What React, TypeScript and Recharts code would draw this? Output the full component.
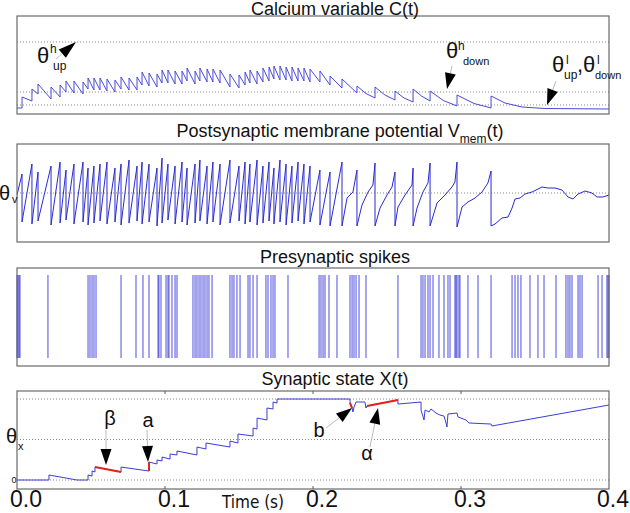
import { LineChart, Line, XAxis, YAxis, ReferenceLine } from 'recharts'

// times in ms, x axis shown in seconds
const POST_SPIKES_MS = [
  3.4, 10.1, 14.2, 23.0, 29.1, 33.1, 38.5, 44.6, 48.0, 52.0,
  56.1, 60.8, 66.2, 70.3, 75.7, 81.1, 84.5, 89.2, 94.6, 98.0,
  102.0, 106.8, 111.5, 114.9, 120.3, 123.6, 128.4, 132.4, 137.2, 143.9,
  150.0, 154.1, 157.4, 162.2, 166.2, 170.3, 173.6, 177.7, 181.8, 185.8,
  189.9, 193.9, 198.0, 204.7, 211.5, 219.6, 229.7, 241.9, 255.4, 267.6,
  279.1, 297.3, 320.3,
]

// calcium just before / just after each postsynaptic spike
const CA_LOW = [
  0.6, 1.3, 2.0, 1.5, 1.7, 2.2, 2.1, 2.0, 2.5, 2.4,
  2.4, 2.3, 2.2, 2.5, 2.4, 2.4, 2.9, 2.8, 2.7, 3.1,
  3.1, 3.0, 3.0, 3.3, 3.0, 3.3, 3.2, 3.2, 3.1, 2.7,
  2.6, 2.9, 3.1, 3.0, 3.2, 3.3, 3.5, 3.4, 3.4, 3.3,
  3.3, 3.3, 3.2, 3.2, 2.9, 2.6, 2.1, 1.6, 1.4, 1.2,
  1.3, 0.8, 0.6,
]
const CA_HIGH = [
  1.7, 2.5, 3.0, 2.7, 2.9, 3.3, 3.3, 3.2, 3.6, 3.6,
  3.6, 3.5, 3.4, 3.7, 3.6, 3.7, 4.2, 4.1, 4.0, 4.4,
  4.4, 4.3, 4.3, 4.6, 4.3, 4.6, 4.5, 4.5, 4.4, 4.0,
  3.9, 4.2, 4.4, 4.3, 4.6, 4.7, 4.8, 4.8, 4.7, 4.7,
  4.6, 4.6, 4.5, 4.3, 3.8, 3.5, 2.8, 2.7, 2.3, 2.5,
  2.3, 1.9, 1.8,
]
// extra calcium samples on the slow decays at the end
const CA_EXTRA_MS = [235.8, 248.6, 261.5, 273.3, 288.0, 308.8, 329.7, 341.2, 356.8, 400]
const CA_EXTRA = [2.05, 1.9, 1.6, 1.8, 1.35, 1.05, 1.1, 0.7, 0.55, 0.5]
const CA_START = 0.6
const CA_THRESHOLDS = [0.9, 2.2, 7.2]

// membrane potential (arbitrary units, threshold at 49)
const VM_START = 47
const VM_PEAK = [
  68, 78, 70, 76, 80, 72, 78, 80, 74, 76,
  78, 80, 74, 78, 82, 76, 80, 78, 74, 84,
  78, 76, 80, 74, 78, 82, 76, 80, 78, 82,
  76, 80, 78, 82, 76, 80, 74, 82, 78, 76,
  80, 78, 76, 72, 70, 80, 72, 79, 70, 74,
  79, 80, 71,
]
const VM_RESET = [
  20, 18, 21, 17, 19, 22, 18, 20, 17, 19,
  21, 18, 20, 17, 19, 21, 18, 20, 16, 19,
  22, 18, 20, 17, 19, 21, 18, 20, 17, 19,
  21, 18, 20, 17, 19, 21, 18, 20, 17, 19,
  21, 18, 20, 17, 16, 16, 16, 16, 16, 16,
  16, 15, 16,
]
const VM_EXTRA_MS = [
  223.0, 227.0, 233.1, 237.2, 240.5, 245.3, 250.0, 253.4, 257.4, 262.2,
  266.9, 270.3, 274.3, 277.7, 283.8, 289.2, 293.9, 295.9, 300.7, 304.7,
  309.5, 314.2, 318.2, 323.0, 327.7, 331.8, 334.5, 336.5, 339.9, 343.2,
  348.0, 354.7, 358.8, 363.5, 368.2, 372.3, 375.7, 379.1, 383.8, 388.5,
  391.9, 395.9, 400,
]
const VM_EXTRA = [
  44, 50, 37, 50, 57, 34, 47, 55, 35, 47,
  57, 34, 50, 59, 39, 47, 55, 60, 35, 40,
  44, 50, 59, 18, 24, 25, 34, 43, 44, 48,
  50, 55, 54, 54, 52, 45, 43, 48, 51, 49,
  45, 45, 47,
]
const VM_THRESHOLD = 49

const PRE_SPIKES_MS = [
  0, 0.7, 1.4, 2.0, 20.9, 48.0, 49.3, 50.7, 52.0, 53.4,
  70.3, 80.4, 85.1, 89.2, 95.3, 95.9, 97.3, 100.7, 102.0, 102.7,
  104.7, 106.8, 108.1, 118.9, 120.3, 121.6, 123.0, 124.3, 125.7, 127.0,
  128.4, 129.7, 131.8, 143.9, 145.3, 146.6, 148.6, 150.7, 156.1, 157.4,
  159.5, 162.2, 168.2, 169.6, 171.6, 173.0, 174.3, 183.1, 204.1, 205.4,
  206.8, 208.1, 210.8, 216.2, 225.0, 226.4, 227.7, 229.1, 231.1, 235.8,
  257.4, 273.0, 274.3, 275.7, 277.7, 279.1, 281.1, 285.1, 288.5, 291.2,
  292.6, 295.9, 296.6, 297.3, 298.6, 299.3, 304.7, 311.5, 320.3, 334.5,
  336.5, 338.5, 340.5, 346.6, 352.0, 356.1, 364.2, 370.9, 372.3, 373.6,
  375.0, 379.1, 380.4, 381.8, 392.6, 395.3, 398.6, 399.3, 400,
]

const X_MS = [
  0, 21.6, 21.6, 40.5, 48.0, 48.0, 50.7, 50.7, 52.7, 52.7,
  70.3, 70.3, 89.2, 89.2, 94.6, 94.6, 98.0, 98.0, 103.4, 103.4,
  108.1, 108.1, 121.6, 121.6, 127.7, 127.7, 143.9, 143.9, 149.3, 149.3,
  159.5, 159.5, 162.2, 162.2, 168.9, 168.9, 173.0, 173.0, 175.7, 175.7,
  225.0, 225.0, 226.4, 227.0, 227.7, 229.1, 235.1, 235.8, 236.5, 257.4,
  257.4, 273.0, 273.0, 275.0, 275.7, 278.4, 279.7, 283.1, 285.8, 288.5,
  289.9, 290.5, 291.2, 297.3, 298.0, 303.4, 305.4, 320.3, 320.9, 400,
]
const X_VAL = [
  0, 0, 0.062, 0, 0, 0.062, 0.049, 0.111, 0.099, 0.16,
  0.099, 0.16, 0.111, 0.222, 0.198, 0.247, 0.235, 0.284, 0.259, 0.321,
  0.309, 0.358, 0.309, 0.407, 0.383, 0.457, 0.407, 0.481, 0.457, 0.568,
  0.543, 0.642, 0.63, 0.765, 0.741, 0.889, 0.877, 0.963, 0.951, 1.0,
  1.0, 0.951, 0.889, 0.84, 0.901, 0.963, 0.963, 0.889, 0.914, 0.988,
  0.938, 0.963, 0.864, 0.741, 0.864, 0.84, 0.877, 0.827, 0.802, 0.79,
  0.704, 0.654, 0.815, 0.827, 0.778, 0.741, 0.704, 0.691, 0.667, 0.926,
]
const X_THRESHOLDS = [0, 0.5, 1]

// highlighted pieces of X(t)
const SEG_BETA = [[52.7, 0.16], [70.3, 0.099]]
const SEG_A = [[89.2, 0.111], [89.2, 0.222]]
const SEG_B = [[225.0, 0.951], [226.4, 0.889]]
const SEG_ALPHA = [[236.5, 0.914], [257.4, 0.988]]

const TIME_TICKS = [0, 100, 200, 300, 400]

const FONT = '"Liberation Sans", Arial, sans-serif'
const RED = '#e4221c'
const GRID = '#8a8a8a'
const W = 630
const PH = 98
const MARGIN = { top: 0, right: 21, bottom: 0, left: 17 }
const PANEL_TOPS = [16, 144, 268, 391]

const byTime = (a: { t: number }, b: { t: number }) => a.t - b.t

const caData = [
  { t: 0, v: CA_START },
  ...POST_SPIKES_MS.flatMap((t, i) => [{ t, v: CA_LOW[i] }, { t, v: CA_HIGH[i] }]),
  ...CA_EXTRA_MS.map((t, i) => ({ t, v: CA_EXTRA[i] })),
].sort(byTime)

const vmData = [
  { t: 0, v: VM_START },
  ...POST_SPIKES_MS.flatMap((t, i) => [{ t, v: VM_PEAK[i] }, { t, v: VM_RESET[i] }]),
  ...VM_EXTRA_MS.map((t, i) => ({ t, v: VM_EXTRA[i] })),
].sort(byTime)

const xData = X_MS.map((t, i) => ({ t, v: X_VAL[i] }))
const toPts = (s: number[][]) => s.map(([t, v]) => ({ t, v }))

function TimeTick(p: any) {
  const last = p.payload.value === 400
  return (
    <text
      x={last ? W - 1 : p.x + 9}
      y={PH + 18}
      textAnchor={last ? 'end' : 'middle'}
      fontSize={23}
      fontFamily={FONT}
      fill="#111"
    >
      {(p.payload.value / 1000).toFixed(1)}
    </text>
  )
}

function Axes({ domain, showX = false }: { domain: [number, number]; showX?: boolean }) {
  return (
    <>
      <XAxis
        type="number"
        dataKey="t"
        domain={[0, 400]}
        allowDataOverflow
        hide={!showX}
        ticks={TIME_TICKS}
        interval={0}
        axisLine={false}
        tickLine={false}
        height={24}
        tick={TimeTick}
      />
      <YAxis type="number" domain={domain} allowDataOverflow hide />
    </>
  )
}

function Arrow({ sx, sy, tx, ty, len = 16, w = 11 }: { sx: number; sy: number; tx: number; ty: number; len?: number; w?: number }) {
  const d = Math.hypot(tx - sx, ty - sy)
  const ux = (tx - sx) / d
  const uy = (ty - sy) / d
  const bx = tx - ux * len
  const by = ty - uy * len
  const px = (-uy * w) / 2
  const py = (ux * w) / 2
  return (
    <g>
      <line x1={sx} y1={sy} x2={bx} y2={by} stroke="#aaa" strokeWidth={0.8} />
      <polygon points={`${tx},${ty} ${bx + px},${by + py} ${bx - px},${by - py}`} fill="#000" />
    </g>
  )
}

const pos = (top: number): React.CSSProperties => ({ position: 'absolute', left: 0, top })

export default function App() {
  const t = { fontFamily: FONT, fill: '#111' }
  return (
    <div style={{ position: 'absolute', left: 0, top: 0, width: W, height: 513, background: '#fff', overflow: 'hidden' }}>
      {/* calcium */}
      <div style={pos(PANEL_TOPS[0])}>
        <LineChart width={W} height={PH} margin={MARGIN}>
          <Axes domain={[0, 9.8]} />
          {CA_THRESHOLDS.map(y => (
            <ReferenceLine key={y} y={y} stroke={GRID} strokeDasharray="1 2" />
          ))}
          <Line data={caData} dataKey="v" type="linear" stroke="#4a4ad8" strokeWidth={1} dot={false} activeDot={false} isAnimationActive={false} />
        </LineChart>
      </div>

      {/* membrane potential */}
      <div style={pos(PANEL_TOPS[1])}>
        <LineChart width={W} height={PH} margin={MARGIN}>
          <Axes domain={[0, 98]} />
          <ReferenceLine y={VM_THRESHOLD} stroke={GRID} strokeDasharray="1 2" />
          <Line data={vmData} dataKey="v" type="linear" stroke="#2a2ad0" strokeWidth={1} dot={false} activeDot={false} isAnimationActive={false} />
        </LineChart>
      </div>

      {/* presynaptic raster */}
      <div style={pos(PANEL_TOPS[2])}>
        <LineChart width={W} height={PH} margin={MARGIN}>
          <Axes domain={[-0.0964, 1.0843]} />
          {PRE_SPIKES_MS.map((s, i) => (
            <ReferenceLine
              key={i}
              segment={[{ x: s, y: 0 }, { x: s, y: 1 }]}
              stroke="#2424d4"
              strokeOpacity={0.62}
              strokeWidth={1.3}
            />
          ))}
        </LineChart>
      </div>

      {/* synaptic state */}
      <div style={pos(PANEL_TOPS[3])}>
        <LineChart width={W} height={PH + 24} margin={MARGIN}>
          <Axes domain={[-0.111, 1.099]} showX />
          {X_THRESHOLDS.map(y => (
            <ReferenceLine key={y} y={y} stroke={GRID} strokeDasharray="1 2" />
          ))}
          {[100, 200, 300].map(x => (
            <ReferenceLine key={'b' + x} segment={[{ x, y: -0.111 }, { x, y: -0.075 }]} stroke="#555" />
          ))}
          {[100, 200, 300].map(x => (
            <ReferenceLine key={'t' + x} segment={[{ x, y: 1.063 }, { x, y: 1.099 }]} stroke="#555" />
          ))}
          <Line data={xData} dataKey="v" type="linear" stroke="#3c3cd8" strokeWidth={1} dot={false} activeDot={false} isAnimationActive={false} />
          {[SEG_BETA, SEG_A, SEG_B, SEG_ALPHA].map((s, i) => (
            <Line key={i} data={toPts(s)} dataKey="v" type="linear" stroke={RED} strokeWidth={2} dot={false} activeDot={false} isAnimationActive={false} />
          ))}
        </LineChart>
      </div>

      <svg width={W} height={513} style={{ position: 'absolute', left: 0, top: 0, pointerEvents: 'none' }}>
        {PANEL_TOPS.map(y => (
          <rect key={y} x={17} y={y} width={592} height={PH} fill="none" stroke="#6a6a6a" strokeWidth={1.2} />
        ))}

        <g {...t} fontSize={18} textAnchor="middle">
          <text x={335} y={15}>Calcium variable C(t)</text>
          <text x={340} y={137}>
            Postsynaptic membrane potential V<tspan fontSize={12} dy={6}>mem</tspan>
            <tspan dy={-6}>(t)</tspan>
          </text>
          <text x={335} y={263}>Presynaptic spikes</text>
          <text x={335} y={385}>Synaptic state X(t)</text>
        </g>

        {/* calcium thresholds */}
        <g {...t}>
          <text x={37} y={63} fontSize={22}>θ</text>
          <text x={50} y={53} fontSize={12}>h</text>
          <text x={53} y={70} fontSize={12}>up</text>
          <text x={446} y={58} fontSize={22}>θ</text>
          <text x={458} y={50} fontSize={12}>h</text>
          <text x={463} y={65} fontSize={11}>down</text>
          <text x={552} y={72} fontSize={22}>θ</text>
          <text x={566} y={64} fontSize={12}>l</text>
          <text x={564} y={79} fontSize={12}>up</text>
          <text x={577} y={72} fontSize={22}>,</text>
          <text x={583} y={72} fontSize={22}>θ</text>
          <text x={597} y={64} fontSize={12}>l</text>
          <text x={595} y={79} fontSize={11}>down</text>
        </g>
        <Arrow sx={56} sy={59} tx={76} ty={42} len={18} />
        <Arrow sx={452} sy={66} tx={447} ty={89} />
        <Arrow sx={556} sy={81} tx={547} ty={105} />

        {/* axis symbols */}
        <g {...t}>
          <text x={-1} y={200} fontSize={20}>θ</text>
          <text x={12} y={203} fontSize={11}>v</text>
          <text x={6} y={443} fontSize={20}>θ</text>
          <text x={18} y={450} fontSize={11}>x</text>
          <text x={14} y={483} fontSize={9} textAnchor="middle">0</text>
        </g>

        {/* X(t) annotations */}
        <g {...t} fontSize={20} textAnchor="middle">
          <text x={110} y={425}>β</text>
          <text x={148} y={427}>a</text>
          <text x={319} y={437}>b</text>
          <text x={367} y={460}>α</text>
        </g>
        <Arrow sx={106} sy={430} tx={106} ty={465} />
        <Arrow sx={147} sy={430} tx={148} ty={462} />
        <Arrow sx={326} sy={428} tx={352} ty={408} />
        <Arrow sx={370} sy={447} tx={378} ty={408} />

        <text
          x={253}
          y={508}
          textAnchor="middle"
          fontSize={17}
          fontFamily={'"Liberation Sans Narrow", "DejaVu Sans Condensed", "Liberation Sans", sans-serif'}
          fill="#111"
        >
          Time (s)
        </text>
      </svg>
    </div>
  )
}
